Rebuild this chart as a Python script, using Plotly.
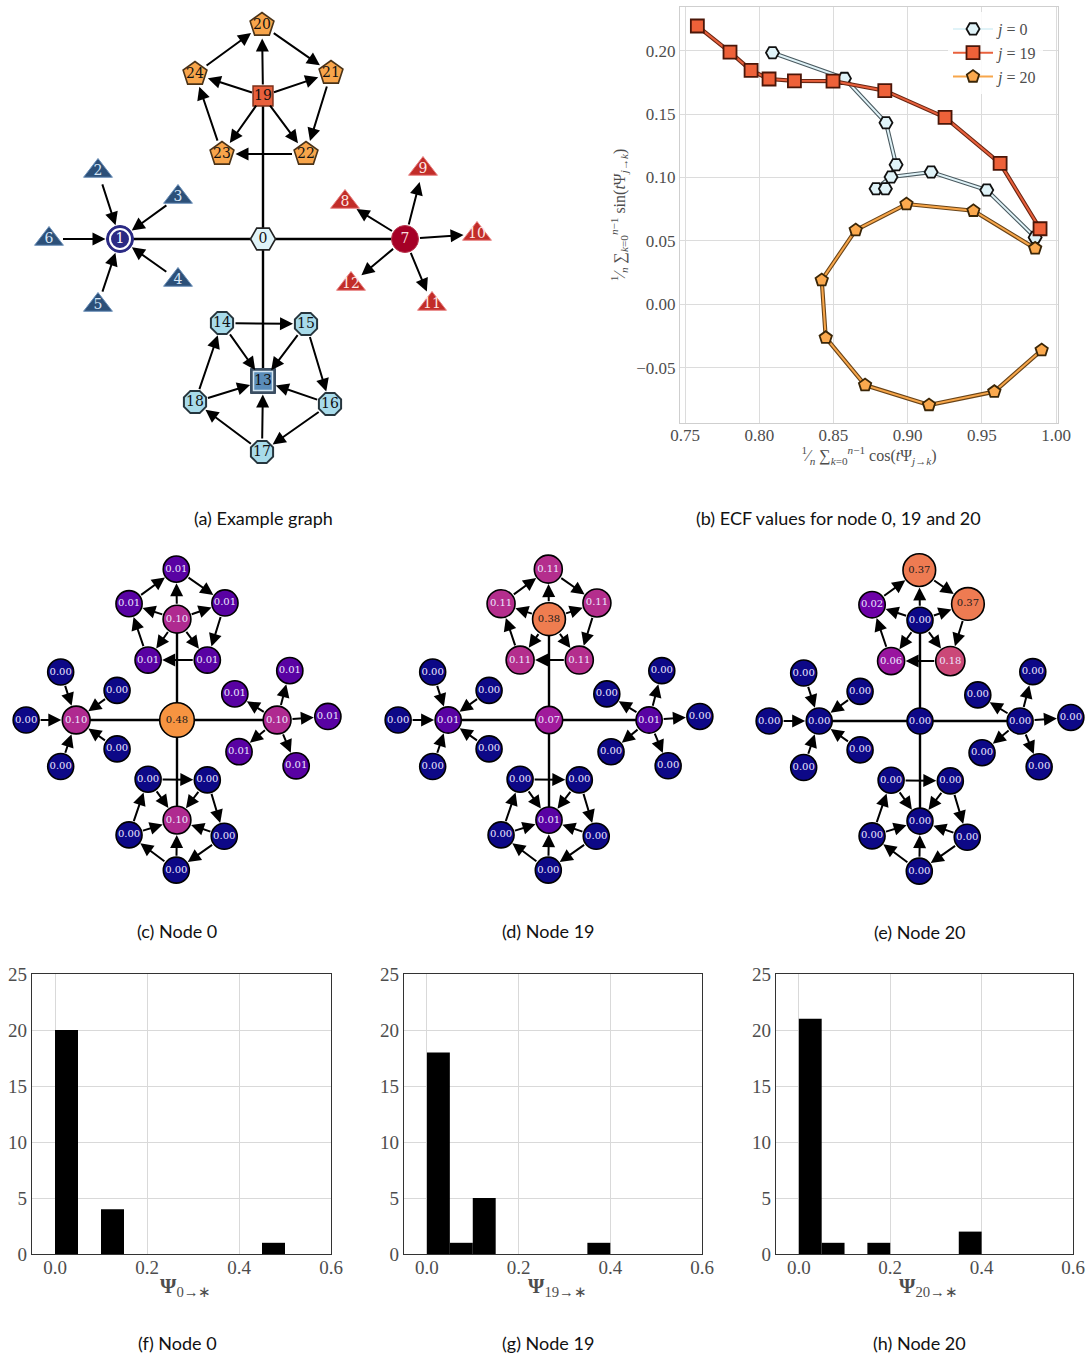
import plotly.graph_objects as go

W, H = 1086, 1357

# ---------------- graph structure ----------------
# layout coordinates of the 25 nodes (node 0 at the origin, y up)
NODE_X = [0, -143, -165, -85, -85, -165, -214, 142, 82, 160, 214, 169, 88,
          0, -41, 43, 67, -1, -68, 0, -1, 68, 43, -41, -68]
NODE_Y = [0, 0, 68, 42, -41, -66, 0, 0, 37, 70, 5, -65, -45,
          -142, -84, -85, -165, -213, -163, 143, 214, 166, 85, 85, 165]

HUB_EDGES = [(0, 1), (0, 7), (0, 13), (0, 19)]
ARCS = [
    (2, 1), (3, 1), (4, 1), (5, 1), (6, 1),
    (7, 8), (7, 9), (7, 10), (7, 11), (7, 12),
    (14, 13), (15, 13), (16, 13), (17, 13), (18, 13),
    (14, 15), (15, 16), (16, 17), (17, 18), (18, 14),
    (19, 20), (19, 21), (19, 22), (19, 23), (19, 24),
    (20, 21), (21, 22), (22, 23), (23, 24), (24, 20),
]

# Psi_{j -> k} for every target node k
PSI_FROM_0 = [0.48, 0.10, 0.00, 0.00, 0.00, 0.00, 0.00, 0.10, 0.01, 0.01, 0.01, 0.01, 0.01,
              0.10, 0.00, 0.00, 0.00, 0.00, 0.00, 0.10, 0.01, 0.01, 0.01, 0.01, 0.01]
PSI_FROM_19 = [0.07, 0.01, 0.00, 0.00, 0.00, 0.00, 0.00, 0.01, 0.00, 0.00, 0.00, 0.00, 0.00,
               0.01, 0.00, 0.00, 0.00, 0.00, 0.00, 0.38, 0.11, 0.11, 0.11, 0.11, 0.11]
PSI_FROM_20 = [0.00, 0.00, 0.00, 0.00, 0.00, 0.00, 0.00, 0.00, 0.00, 0.00, 0.00, 0.00, 0.00,
               0.00, 0.00, 0.00, 0.00, 0.00, 0.00, 0.00, 0.37, 0.37, 0.18, 0.06, 0.02]

# ---------------- ECF curves ----------------
ECF_J0_COS = [0.9859, 0.9533, 0.9158, 0.8888, 0.8787, 0.8850, 0.8922, 0.8854, 0.8574, 0.8089]
ECF_J0_SIN = [0.0528, 0.0901, 0.1043, 0.1004, 0.0912, 0.0912, 0.1101, 0.1432, 0.1782, 0.1984]
ECF_J19_COS = [0.9892, 0.9623, 0.9252, 0.8846, 0.8497, 0.8237, 0.8066, 0.7945, 0.7803, 0.7583]
ECF_J19_SIN = [0.0596, 0.1111, 0.1474, 0.1685, 0.1761, 0.1763, 0.1777, 0.1845, 0.1989, 0.2195]
ECF_J20_COS = [0.9859, 0.9443, 0.8992, 0.8650, 0.8421, 0.8448, 0.8713, 0.9144, 0.9584, 0.9903]
ECF_J20_SIN = [0.0441, 0.0738, 0.0791, 0.0586, 0.0191, -0.0263, -0.0637, -0.0794, -0.0689, -0.0361]

# ---------------- histograms ----------------
BIN_LEFT = [0.00, 0.05, 0.10, 0.15, 0.20, 0.25, 0.30, 0.35, 0.40, 0.45]
BIN_WIDTH = 0.05
COUNT_NODE0 = [20, 0, 4, 0, 0, 0, 0, 0, 0, 1]
COUNT_NODE19 = [18, 1, 5, 0, 0, 0, 0, 1, 0, 0]
COUNT_NODE20 = [21, 1, 0, 1, 0, 0, 0, 2, 0, 0]

SERIF = "DejaVu Serif"
TICK_FONT = dict(family="Liberation Serif", size=19, color="#4d4d4d")
CAPTION_FONT = dict(family="Lato", size=18, color="#111111")


def xdom(p0, p1):
    return [p0 / W, p1 / W]


def ydom(top, bottom):
    return [1 - bottom / H, 1 - top / H]


def axname(n):
    return "" if n == 1 else str(n)


layout = dict(
    width=W, height=H, margin=dict(l=0, r=0, t=0, b=0, autoexpand=False),
    paper_bgcolor="white", plot_bgcolor="white", showlegend=True,
)
traces = []
annotations = []


def graph_axes(n, left, right, top, bottom, cx, cy, scale):
    s = axname(n)
    layout["xaxis" + s] = dict(domain=xdom(left, right),
                               range=[(left - cx) / scale, (right - cx) / scale],
                               visible=False, anchor="y" + s)
    layout["yaxis" + s] = dict(domain=ydom(top, bottom),
                               range=[(cy - bottom) / scale, (cy - top) / scale],
                               visible=False, anchor="x" + s)


def hub_lines(n):
    xs, ys = [], []
    for a, b in HUB_EDGES:
        xs += [NODE_X[a], NODE_X[b], None]
        ys += [NODE_Y[a], NODE_Y[b], None]
    s = axname(n)
    traces.append(go.Scatter(x=xs, y=ys, mode="lines", line=dict(color="black", width=2.4),
                             xaxis="x" + s, yaxis="y" + s, showlegend=False, hoverinfo="skip"))


def arrows(n, sizes):
    s = axname(n)
    for a, b in ARCS:
        annotations.append(dict(
            x=NODE_X[b], y=NODE_Y[b], ax=NODE_X[a], ay=NODE_Y[a],
            xref="x" + s, yref="y" + s, axref="x" + s, ayref="y" + s,
            text="", showarrow=True, arrowhead=2, arrowsize=1.3, arrowwidth=2,
            arrowcolor="black", standoff=sizes[b] / 2 + 1, startstandoff=sizes[a] / 2,
        ))


# ================= (a) example graph =================
graph_axes(1, 0, 526, 0, 480, 263, 239, 1.0)
hub_lines(1)

GROUPS_A = [
    dict(nodes=[2, 3, 4, 5, 6], symbol="triangle-up", size=25, fill="#2c5079",
         edge="#6a8fb8", lw=1, txt="#d6e6f7"),
    dict(nodes=[8, 9, 10, 11, 12], symbol="triangle-up", size=25, fill="#c22d29",
         edge="#e88080", lw=1, txt="#fde8e4"),
    dict(nodes=[14, 15, 16, 17, 18], symbol="octagon", size=24, fill="#a8dbea",
         edge="#26353d", lw=2, txt="#111111"),
    dict(nodes=[20, 21, 22, 23, 24], symbol="pentagon", size=25, fill="#f8a54b",
         edge="#4a3318", lw=1.6, txt="#111111"),
    dict(nodes=[0], symbol="hexagon2", size=25, fill="#e0f3f8",
         edge="#222222", lw=1.6, txt="#111111"),
    dict(nodes=[7], symbol="circle", size=27, fill="#a50026",
         edge="#b8384f", lw=1, txt="#f8dede"),
    dict(nodes=[19], symbol="square", size=20, fill="#e8603c",
         edge="#7a301a", lw=1.4, txt="#111111"),
]
sizes_a = {}
for g in GROUPS_A:
    for k in g["nodes"]:
        sizes_a[k] = g["size"]
sizes_a[1] = 27
sizes_a[13] = 25

# double-ringed hubs 1 and 13
traces.append(go.Scatter(x=[NODE_X[1]], y=[NODE_Y[1]], mode="markers",
                         marker=dict(symbol="circle", size=27, color="#2b2a84",
                                     line=dict(color="#2b2a84", width=1)),
                         showlegend=False, hoverinfo="skip"))
traces.append(go.Scatter(x=[NODE_X[1]], y=[NODE_Y[1]], mode="markers+text", text=["1"],
                         textposition="middle center",
                         textfont=dict(family=SERIF, size=14, color="white"),
                         marker=dict(symbol="circle", size=20, color="#2b2a84",
                                     line=dict(color="white", width=2)),
                         showlegend=False, hoverinfo="skip"))
traces.append(go.Scatter(x=[NODE_X[13]], y=[NODE_Y[13]], mode="markers",
                         marker=dict(symbol="square", size=25, color="#3b4e62",
                                     line=dict(color="#3b4e62", width=1)),
                         showlegend=False, hoverinfo="skip"))
traces.append(go.Scatter(x=[NODE_X[13]], y=[NODE_Y[13]], mode="markers+text", text=["13"],
                         textposition="middle center",
                         textfont=dict(family=SERIF, size=14, color="#111111"),
                         marker=dict(symbol="square", size=19, color="#5a8cb8",
                                     line=dict(color="#d4e6f2", width=1.5)),
                         showlegend=False, hoverinfo="skip"))
for g in GROUPS_A:
    traces.append(go.Scatter(
        x=[NODE_X[k] for k in g["nodes"]], y=[NODE_Y[k] for k in g["nodes"]],
        mode="markers+text", text=[str(k) for k in g["nodes"]], textposition="middle center",
        textfont=dict(family=SERIF, size=14, color=g["txt"]),
        marker=dict(symbol=g["symbol"], size=g["size"], color=g["fill"], opacity=1,
                    line=dict(color=g["edge"], width=g["lw"])),
        showlegend=False, hoverinfo="skip"))
arrows(1, sizes_a)

# ================= (b) ECF curves =================
AX_B_FONT = dict(family="Liberation Serif", size=17, color="#4d4d4d")
layout["xaxis2"] = dict(domain=xdom(680, 1058), range=[0.7466, 1.0013], anchor="y2",
                        tickvals=[0.75, 0.80, 0.85, 0.90, 0.95, 1.00], tickformat=".2f",
                        showline=True, mirror=True, linecolor="#cfcfcf", linewidth=1.2,
                        showgrid=True, gridcolor="#dcdcdc", zeroline=False, ticks="",
                        tickfont=AX_B_FONT, ticklabelstandoff=-4,
                        title=dict(text="<sup>1</sup>⁄<sub><i>n</i></sub> ∑<sub><i>k</i>=0</sub>"
                                        "<sup><i>n</i>−1</sup> cos(<i>t</i>Ψ<sub><i>j</i>→<i>k</i></sub>)",
                                   font=dict(family="Liberation Serif", size=16, color="#4d4d4d"),
                                   standoff=4))
layout["yaxis2"] = dict(domain=ydom(7, 423), range=[-0.0936, 0.2345], anchor="x2",
                        tickvals=[-0.05, 0.00, 0.05, 0.10, 0.15, 0.20], tickformat=".2f",
                        showline=True, mirror=True, linecolor="#cfcfcf", linewidth=1.2,
                        showgrid=True, gridcolor="#dcdcdc", zeroline=False, ticks="",
                        tickfont=AX_B_FONT,
                        title=dict(text="<sup>1</sup>⁄<sub><i>n</i></sub> ∑<sub><i>k</i>=0</sub>"
                                        "<sup><i>n</i>−1</sup> sin(<i>t</i>Ψ<sub><i>j</i>→<i>k</i></sub>)",
                                   font=dict(family="Liberation Serif", size=16, color="#4d4d4d"),
                                   standoff=6))

ECF_SERIES = [
    ("<i>j</i> = 0", ECF_J0_COS, ECF_J0_SIN, "hexagon2", "#e0f3f8", "#111111", "#e0f3f8", "#4a5a60"),
    ("<i>j</i> = 19", ECF_J19_COS, ECF_J19_SIN, "square", "#ee6139", "#4a1608", "#e8603c", "#6a2612"),
    ("<i>j</i> = 20", ECF_J20_COS, ECF_J20_SIN, "pentagon", "#fba94e", "#3a2608", "#f7a64a", "#6a4418"),
]
for name, xs, ys, sym, fill, edge, lfill, ledge in ECF_SERIES:
    traces.append(go.Scatter(x=xs, y=ys, mode="lines", line=dict(color=ledge, width=4.2),
                             xaxis="x2", yaxis="y2", showlegend=False, legendgroup=name,
                             hoverinfo="skip"))
    traces.append(go.Scatter(x=xs, y=ys, mode="lines+markers", name=name, legendgroup=name,
                             line=dict(color=lfill, width=2.0),
                             marker=dict(symbol=sym, size=13, color=fill,
                                         line=dict(color=edge, width=1.8)),
                             xaxis="x2", yaxis="y2"))
layout["legend"] = dict(x=948 / W, y=1 - 12 / H, xanchor="left", yanchor="top",
                        bgcolor="rgba(255,255,255,0.85)", borderwidth=0,
                        font=dict(family="Liberation Serif", size=16, color="#4d4d4d"),
                        itemwidth=40, tracegroupgap=0)

# ================= (c)-(e) Psi on the graph =================
PANELS = [
    (3, PSI_FROM_0, 0, 362, 177, 720),
    (4, PSI_FROM_19, 362, 724, 549, 720),
    (5, PSI_FROM_20, 724, 1086, 920, 721),
]
SCALE = 0.705
for n, psi, left, right, cx, cy in PANELS:
    graph_axes(n, left, right, 540, 900, cx, cy, SCALE)
    hub_lines(n)
    shade = [v ** 0.4 for v in psi]
    sizes = [26 + 18 * v for v in psi]
    s = axname(n)
    traces.append(go.Scatter(
        x=NODE_X, y=NODE_Y, mode="markers+text",
        text=[f"{v:.2f}" for v in psi], textposition="middle center",
        textfont=dict(family=SERIF, size=10,
                      color=["#1a1a1a" if c > 0.6 else "#ebe6ff" for c in shade]),
        marker=dict(symbol="circle", size=sizes, color=shade, colorscale="Plasma",
                    cmin=0, cmax=1, opacity=1, line=dict(color="black", width=1.6)),
        xaxis="x" + s, yaxis="y" + s, showlegend=False, hoverinfo="skip"))
    arrows(n, sizes)

# ================= (f)-(h) histograms =================
HISTS = [
    (6, COUNT_NODE0, 32, 331, "0"),
    (7, COUNT_NODE19, 404, 702, "19"),
    (8, COUNT_NODE20, 776, 1073, "20"),
]
for n, counts, left, right, src in HISTS:
    s = str(n)
    layout["xaxis" + s] = dict(domain=xdom(left, right), range=[-0.05, 0.6], anchor="y" + s,
                               tickvals=[0.0, 0.2, 0.4, 0.6], ticktext=["0.0", "0.2", "0.4", "0.6"],
                               showline=True, mirror=True, linecolor="#333333", linewidth=1.4,
                               showgrid=True, gridcolor="#d9d9d9", zeroline=False, ticks="",
                               tickfont=TICK_FONT, ticklabelstandoff=-4)
    layout["yaxis" + s] = dict(domain=ydom(974, 1254), range=[0, 25], anchor="x" + s,
                               tickvals=[0, 5, 10, 15, 20, 25],
                               showline=True, mirror=True, linecolor="#333333", linewidth=1.4,
                               showgrid=True, gridcolor="#d9d9d9", zeroline=False, ticks="",
                               tickfont=TICK_FONT)
    traces.append(go.Bar(x=BIN_LEFT, y=counts, width=BIN_WIDTH, offset=0,
                         marker=dict(color="black", line=dict(width=0)),
                         xaxis="x" + s, yaxis="y" + s, showlegend=False, hoverinfo="skip"))
    annotations.append(dict(text=f"<b>Ψ</b><sub>{src}→∗</sub>",
                            x=(left + right) / 2 / W + 4 / W, y=1 - 1287 / H,
                            xref="paper", yref="paper", xanchor="center", yanchor="middle",
                            showarrow=False,
                            font=dict(family="Liberation Serif", size=21, color="#4d4d4d")))

# ================= captions =================
CAPTIONS = [
    ("(a) Example graph", 263, 518),
    ("(b) ECF values for node 0, 19 and 20", 838, 518),
    ("(c) Node 0", 177, 931),
    ("(d) Node 19", 548, 931),
    ("(e) Node 20", 920, 932),
    ("(f) Node 0", 177, 1343),
    ("(g) Node 19", 548, 1343),
    ("(h) Node 20", 920, 1343),
]
for txt, px, py in CAPTIONS:
    annotations.append(dict(text=txt, x=px / W, y=1 - py / H, xref="paper", yref="paper",
                            xanchor="center", yanchor="middle", showarrow=False,
                            font=CAPTION_FONT))

layout["annotations"] = annotations
fig = go.Figure(data=traces, layout=layout)
# the page body keeps no default margin so the figure fills the window exactly
fig.write_html("out.html",
               post_script="document.body.style.margin='0';document.body.style.overflow='hidden';")
